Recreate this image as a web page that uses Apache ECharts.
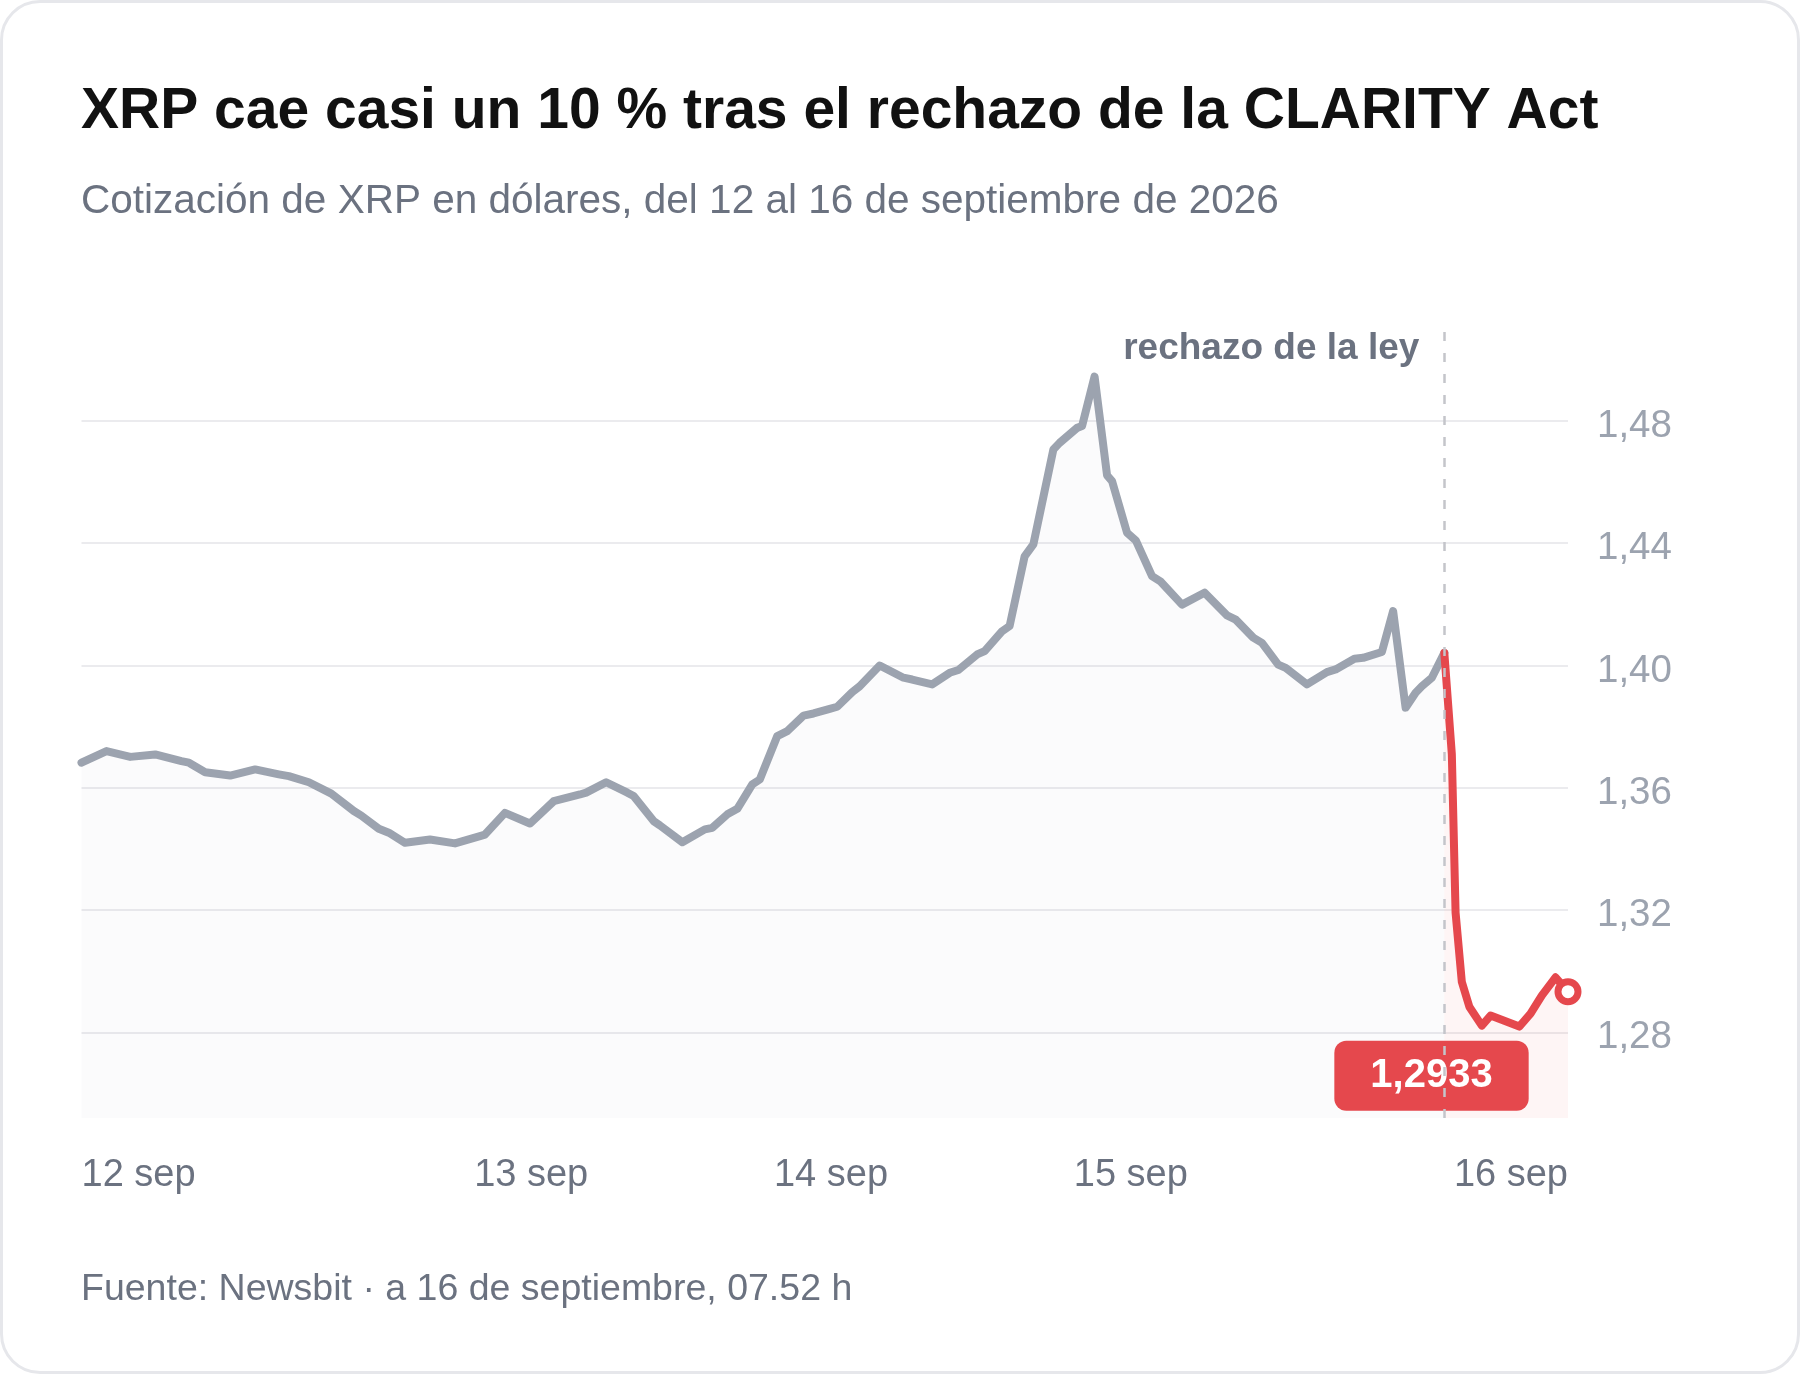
<!DOCTYPE html>
<html>
<head>
<meta charset="utf-8">
<title>XRP CLARITY Act</title>
<script src="https://cdn.jsdelivr.net/npm/echarts@6/dist/echarts.min.js"></script>
<style>
  html, body { margin: 0; padding: 0; background: #fff; }
  #wrap { position: relative; width: 1800px; height: 1374px; }
  #chart { width: 1800px; height: 1374px; }
  #card {
    position: absolute; left: 0; top: 0; right: 0; bottom: 0;
    border: 3px solid #e6e7eb; border-radius: 40px; pointer-events: none;
  }
</style>
</head>
<body>
<div id="wrap">
  <div id="chart"></div>
  <div id="card"></div>
</div>
<script>
// horas desde el inicio del eje (0 = borde izquierdo)
const greyHours = [0, 2, 3.9, 5.9, 8, 8.6, 9.9, 11.9, 13.9, 15.8, 16.6, 18.2, 20, 21.8, 22.4, 23.8, 24.6, 25.9, 27.9, 29.9,
  31.9, 32.3, 33.9, 35.9, 37.8, 39.9, 40.4, 42, 43.7, 44.2, 45.8, 46.3, 48.1, 49.9, 50.5, 51.7, 52.5, 53.7, 54.3, 55.7,
  56.5, 57.8, 58.6, 59.9, 60.5, 61.7, 62.3, 63.9, 65.8, 66.5, 68.1, 69.5, 70.2, 71.7, 72.3, 73.7, 74.3, 75.5, 76.2, 77.8,
  78.3, 79.7, 80.1, 81.1, 82.1, 82.5, 83.7, 84.4, 85.7, 86.4, 88.1, 89.9, 91.7, 92.4, 93.8, 94.5, 95.8, 96.4, 98.1, 99.7,
  100.4, 101.9, 102.6, 104.1, 105, 106, 106.8, 107.3, 108.1, 109.1];
const greyPrice = [1.3682, 1.3720, 1.3701, 1.3709, 1.3687, 1.3682, 1.3651, 1.3640, 1.3660, 1.3644, 1.3638, 1.3618, 1.3581, 1.3524, 1.3509, 1.3466, 1.3453, 1.3420, 1.3431, 1.3418,
  1.3442, 1.3447, 1.3518, 1.3483, 1.3556, 1.3578, 1.3584, 1.3618, 1.3584, 1.3573, 1.3491, 1.3477, 1.3422, 1.3464, 1.3469, 1.3513, 1.3531, 1.3611, 1.3627, 1.3769,
  1.3785, 1.3836, 1.3843, 1.3858, 1.3865, 1.3913, 1.3932, 1.4000, 1.3960, 1.3954, 1.3938, 1.3976, 1.3985, 1.4036, 1.4047, 1.4112, 1.4129, 1.4357, 1.4396, 1.4706,
  1.4728, 1.4777, 1.4783, 1.4945, 1.4622, 1.4603, 1.4434, 1.4409, 1.4292, 1.4274, 1.4199, 1.4238, 1.4164, 1.4150, 1.4091, 1.4074, 1.4003, 1.3992, 1.3938, 1.3978,
  1.3987, 1.4022, 1.4025, 1.4044, 1.4178, 1.3862, 1.3911, 1.3932, 1.3960, 1.4041];

// tramo tras el rechazo
const redHours = [109.1, 109.7, 110, 110.5, 111.1, 112.1, 112.8, 113.9, 115.1, 116, 116.9, 118, 119];
const redPrice = [1.4041, 1.3710, 1.3192, 1.2965, 1.2884, 1.2822, 1.2855, 1.2838, 1.2819, 1.2861, 1.2920, 1.2980, 1.2933];

const rejectHour = 109.1;
const xLabelHours = [0, 36, 60, 84, 119];
const xLabelNames = ['12 sep', '13 sep', '14 sep', '15 sep', '16 sep'];
const yTicks = [1.28, 1.32, 1.36, 1.40, 1.44, 1.48];

const FONT = '"Liberation Sans", Arial, Helvetica, sans-serif';
const GREY = '#9ca3af';
const RED = '#e5484d';

function comma(v, d) {
  return v.toFixed(d).replace('.', ',');
}

var greyData = greyHours.map(function (h, i) { return [h, greyPrice[i]]; });
var redData = redHours.map(function (h, i) { return [h, redPrice[i]]; });
// ultimo punto: circulo + etiqueta con el precio
var last = redData.pop();
redData.push({
  value: last,
  symbol: 'circle',
  symbolSize: 20,
  itemStyle: { color: '#fff', borderColor: RED, borderWidth: 7 },
  label: {
    show: true,
    position: 'inside',
    offset: [-136.5, 84],
    formatter: function (p) { return comma(p.value[1], 4); },
    backgroundColor: RED,
    borderRadius: 12,
    padding: [16, 36, 16, 36],
    color: '#fff',
    fontFamily: FONT,
    fontWeight: 'bold',
    fontSize: 40,
    lineHeight: 38
  }
});

var chart = echarts.init(document.getElementById('chart'), null, { renderer: 'canvas' });

var option = {
  animation: false,
  backgroundColor: '#fff',
  textStyle: { fontFamily: FONT },
  title: [
    {
      text: 'XRP cae casi un 10 % tras el rechazo de la CLARITY Act',
      left: 81, top: 83.5, padding: 0,
      textStyle: { fontFamily: FONT, fontSize: 57, fontWeight: 'bold', color: '#111111' }
    },
    {
      text: 'Cotización de XRP en dólares, del 12 al 16 de septiembre de 2026',
      left: 81, top: 181.5, padding: 0,
      textStyle: { fontFamily: FONT, fontSize: 40.5, fontWeight: 'normal', color: '#6b7280' }
    },
    {
      text: 'Fuente: Newsbit · a 16 de septiembre, 07.52 h',
      left: 81, top: 1270.5, padding: 0,
      textStyle: { fontFamily: FONT, fontSize: 37.5, fontWeight: 'normal', color: '#6b7280' }
    }
  ],
  grid: { left: 81.5, right: 232, top: 323, bottom: 256, containLabel: false },
  xAxis: {
    type: 'value',
    min: 0,
    max: 119,
    axisLine: { show: false },
    axisTick: { show: false },
    splitLine: { show: false },
    axisLabel: {
      customValues: xLabelHours,
      showMinLabel: true,
      showMaxLabel: true,
      alignMinLabel: 'left',
      alignMaxLabel: 'right',
      margin: 38.5,
      fontFamily: FONT,
      fontSize: 38,
      color: '#6b7280',
      formatter: function (v) {
        var i = xLabelHours.indexOf(v);
        return i >= 0 ? xLabelNames[i] : '';
      }
    }
  },
  yAxis: {
    type: 'value',
    position: 'right',
    min: 1.252,
    max: 1.512,
    axisLine: { show: false },
    axisTick: { show: false, customValues: yTicks },
    splitLine: { show: true, lineStyle: { color: '#ebebee', width: 2 } },
    axisLabel: {
      customValues: yTicks,
      margin: 29,
      fontFamily: FONT,
      fontSize: 38.5,
      color: GREY,
      // texto un poco por debajo de la rejilla, como en el original
      verticalAlign: 'top',
      lineHeight: 11,
      formatter: function (v) { return comma(v, 2); }
    }
  },
  series: [
    {
      name: 'antes',
      type: 'line',
      data: greyData,
      showSymbol: false,
      lineStyle: { color: GREY, width: 8, join: 'round', cap: 'round' },
      areaStyle: { color: 'rgba(156,163,175,0.06)', origin: 'start' },
      markPoint: {
        symbol: 'circle',
        symbolSize: 0,
        itemStyle: { color: 'transparent' },
        data: [{
          coord: [rejectHour, 1.5035],
          label: {
            show: true,
            position: 'left',
            distance: 25,
            formatter: 'rechazo de la ley',
            fontFamily: FONT,
            fontSize: 37,
            fontWeight: 'bold',
            color: '#6b7280'
          }
        }]
      },
      z: 2
    },
    {
      name: 'despues',
      type: 'line',
      data: redData,
      showSymbol: true,
      symbol: 'none',
      lineStyle: { color: RED, width: 8, join: 'round', cap: 'round' },
      areaStyle: { color: 'rgba(229,72,77,0.08)', origin: 'start' },
      markLine: {
        silent: true,
        symbol: ['none', 'none'],
        label: { show: false },
        lineStyle: { color: '#c4c5ca', width: 2.5, type: [9, 12] },
        data: [{ xAxis: rejectHour }],
        z: 5
      },
      z: 3
    }
  ]
};

chart.setOption(option);
</script>
</body>
</html>
